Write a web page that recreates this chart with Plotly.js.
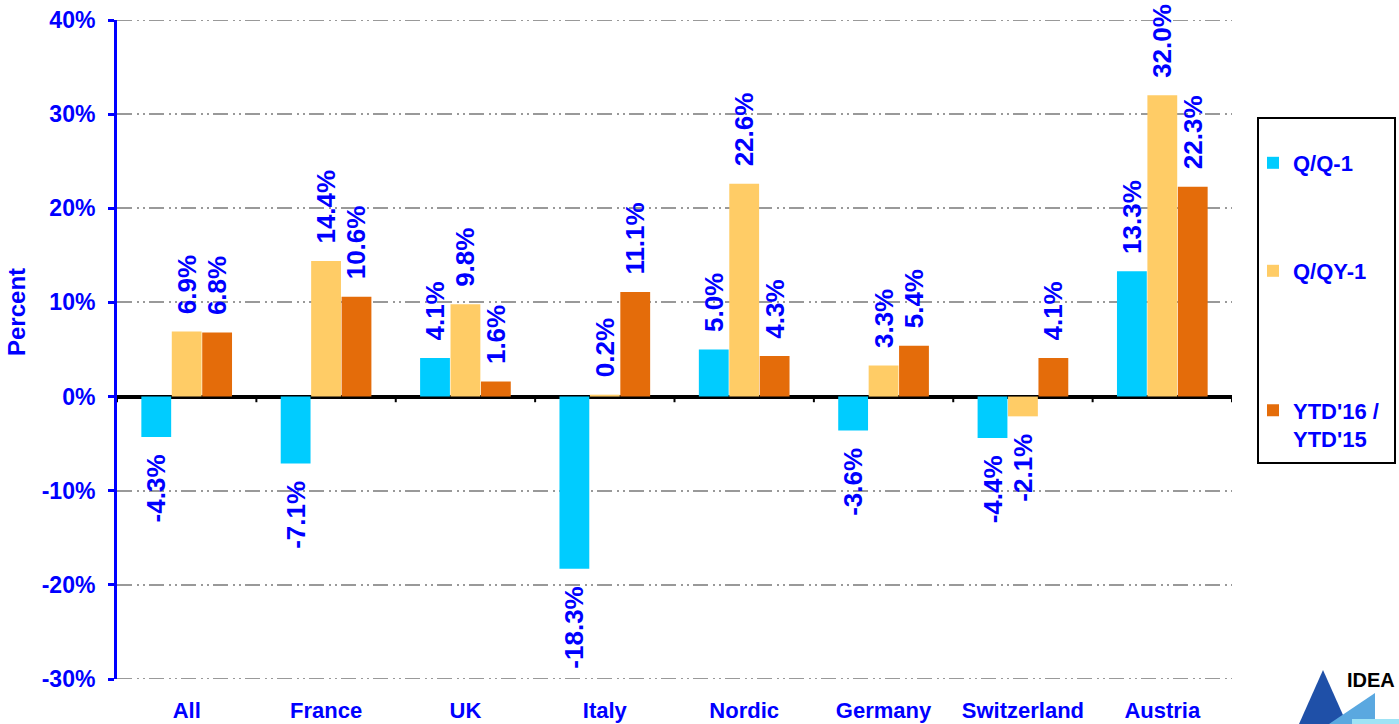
<!DOCTYPE html>
<html>
<head>
<meta charset="utf-8">
<script src="https://cdn.plot.ly/plotly-3.0.1.min.js"></script>
<style>
  html, body { margin: 0; padding: 0; background: #ffffff; }
  #chart { width: 1399px; height: 724px; }
</style>
</head>
<body>
<div id="chart"></div>
<script>
// ---- data ----
const categories = ["All", "France", "UK", "Italy", "Nordic", "Germany", "Switzerland", "Austria"];
const qq1 = [-4.3, -7.1, 4.1, -18.3, 5.0, -3.6, -4.4, 13.3];        // Q/Q-1
const qqy1 = [6.9, 14.4, 9.8, 0.2, 22.6, 3.3, -2.1, 32.0];          // Q/QY-1
const ytd = [6.8, 10.6, 1.6, 11.1, 4.3, 5.4, 4.1, 22.3];            // YTD'16 / YTD'15
const seriesNames = ["Q/Q-1", "Q/QY-1", "YTD'16 /<br>YTD'15"];
const yTickVals = [-30, -20, -10, 0, 10, 20, 30, 40];

// ---- style ----
const FONT = "Liberation Sans, Arial, sans-serif";
const BLUE = "#0000FF";
const colors = ["#00CCFF", "#FFCC66", "#E46C0A"];
const GRIDDASH = "15px,5px,2px,4px,2px,4px";

// plot area in pixels (for converting decoration positions to paper coords)
const W = 1399, H = 724;
const M = {l: 117, r: 167, t: 20, b: 45};
const PW = W - M.l - M.r, PH = H - M.t - M.b;
const px = x => (x - M.l) / PW;
const py = y => (H - M.b - y) / PH;

function labels(vals) {
  const sp = "\u00A0\u00A0";
  return vals.map(v => (v >= 0 ? sp + v.toFixed(1) + "%" : v.toFixed(1) + "%" + sp));
}

const allSeries = [qq1, qqy1, ytd];
const traces = allSeries.map((vals, i) => ({
  type: "bar",
  name: seriesNames[i],
  x: categories,
  y: vals,
  marker: {color: colors[i], line: {width: 0}},
  text: labels(vals),
  textposition: "outside",
  textangle: -90,
  constraintext: "none",
  cliponaxis: false,
  textfont: {family: FONT, size: 26, color: BLUE, weight: "bold"},
  hoverinfo: "skip",
  legend: i === 0 ? "legend" : (i === 1 ? "legend2" : "legend3")
}));

const shapes = [];
// gridlines at the range ends (Plotly omits them at the plot edges)
[yTickVals[0], yTickVals[yTickVals.length - 1]].forEach(v => {
  shapes.push({
    type: "line", xref: "paper", yref: "y",
    x0: 0, x1: 1, y0: v, y1: v,
    line: {color: "#999999", width: 2, dash: GRIDDASH}, layer: "below"
  });
});
// small black ticks on zero line at category boundaries
for (let i = 0; i <= categories.length; i++) {
  shapes.push({
    type: "line", xref: "x", yref: "y",
    x0: i - 0.5, x1: i - 0.5, y0: 0, y1: -0.6,
    line: {color: "#000000", width: 2}, layer: "above"
  });
}
// legend box
shapes.push({
  type: "rect", xref: "paper", yref: "paper",
  x0: px(1258), x1: px(1395), y0: py(463), y1: py(118),
  line: {color: "#000000", width: 2}, fillcolor: "rgba(0,0,0,0)"
});
// logo triangles
shapes.push({
  type: "path", xref: "paper", yref: "paper",
  path: `M ${px(1323)},${py(670)} L ${px(1347)},${py(724)} L ${px(1299)},${py(724)} Z`,
  fillcolor: "#1F50A8", line: {width: 0}
});
shapes.push({
  type: "path", xref: "paper", yref: "paper",
  path: `M ${px(1375)},${py(693)} L ${px(1375)},${py(724)} L ${px(1329)},${py(724)} Z`,
  fillcolor: "#5AA8E0", line: {width: 0}
});
shapes.push({
  type: "rect", xref: "paper", yref: "paper",
  x0: px(1352), x1: px(1399), y0: py(724), y1: py(719),
  fillcolor: "#9FE3F5", line: {width: 0}
});

const legendFont = {family: FONT, size: 22, color: BLUE, weight: "bold"};
const legendBase = {
  font: legendFont, bgcolor: "rgba(0,0,0,0)", borderwidth: 0,
  xanchor: "left", yanchor: "middle", itemclick: false, itemdoubleclick: false
};

const layout = {
  width: W, height: H,
  margin: M,
  paper_bgcolor: "#ffffff",
  plot_bgcolor: "#ffffff",
  font: {family: FONT, color: BLUE},
  barmode: "group",
  bargap: 0.345,
  bargroupgap: 0.02,
  showlegend: true,
  legend: Object.assign({}, legendBase, {x: px(1253), y: py(163)}),
  legend2: Object.assign({}, legendBase, {x: px(1253), y: py(271)}),
  legend3: Object.assign({}, legendBase, {x: px(1253), y: py(425), valign: "top"}),
  xaxis: {
    type: "category",
    range: [-0.5, categories.length - 0.5],
    showline: false, showgrid: false, zeroline: false,
    ticks: "",
    ticklabelstandoff: 16,
    tickfont: {family: FONT, size: 22, color: BLUE, weight: "bold"},
    fixedrange: true
  },
  yaxis: {
    range: [yTickVals[0], yTickVals[yTickVals.length - 1]],
    tickvals: yTickVals,
    ticktext: yTickVals.map(v => v + "%"),
    showline: true, linecolor: BLUE, linewidth: 3,
    ticks: "outside", tickcolor: BLUE, tickwidth: 3, ticklen: 6,
    ticklabelstandoff: 8,
    tickfont: {family: FONT, size: 23, color: BLUE, weight: "bold"},
    showgrid: true, gridcolor: "#999999", gridwidth: 2,
    griddash: GRIDDASH,
    zeroline: true, zerolinecolor: "#000000", zerolinewidth: 4,
    fixedrange: true
  },
  shapes: shapes,
  annotations: [
    {
      text: "Percent", xref: "paper", yref: "paper",
      x: px(17), y: py(312), textangle: -90, showarrow: false,
      xanchor: "center", yanchor: "middle",
      font: {family: FONT, size: 24, color: BLUE, weight: "bold"}
    },
    {
      text: "IDEA", xref: "paper", yref: "paper",
      x: px(1371), y: py(680), showarrow: false,
      xanchor: "center", yanchor: "middle",
      font: {family: FONT, size: 20, color: "#000000", weight: "bold"}
    }
  ]
};

Plotly.newPlot("chart", traces, layout, {displayModeBar: false, staticPlot: true});
</script>
</body>
</html>
